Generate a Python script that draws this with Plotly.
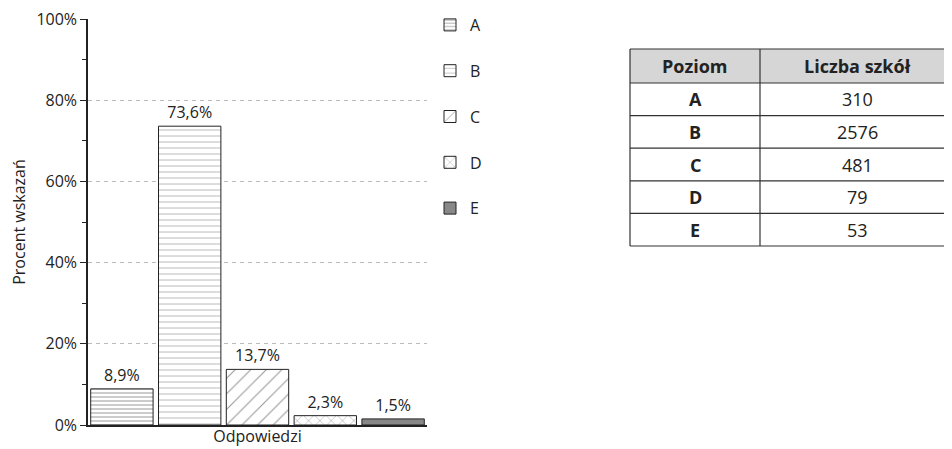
import plotly.graph_objects as go

categories = ["A", "B", "C", "D", "E"]
percent = [8.9, 73.6, 13.7, 2.3, 1.5]
labels = ["8,9%", "73,6%", "13,7%", "2,3%", "1,5%"]
table_header = ["Poziom", "Liczba szkół"]
table_levels = ["A", "B", "C", "D", "E"]
table_counts = ["310", "2576", "481", "79", "53"]

patterns = [
    dict(shape="-", size=4, solidity=0.25, fgcolor="#333", bgcolor="white"),
    dict(shape="-", size=6, solidity=0.15, fgcolor="#666", bgcolor="white"),
    dict(shape="/", size=11, solidity=0.1, fgcolor="#333", bgcolor="white"),
    dict(shape="x", size=8, solidity=0.12, fgcolor="#333", bgcolor="white"),
    dict(shape="", fgcolor="#888", bgcolor="#888"),
]
fills = ["white", "white", "white", "white", "#888888"]

# page body has an 8px margin; figure laid out in its own pixel coords
W, H = 944, 441
FONT = "Open Sans"


def px(x):
    return x / W


def py(y):
    return 1 - y / H


fig = go.Figure()
for i, c in enumerate(categories):
    fig.add_trace(go.Bar(
        x=[c], y=[percent[i]], name=c, text=[labels[i]],
        textposition="outside", cliponaxis=False,
        textfont=dict(size=16, color="#222"),
        marker=dict(color=fills[i], line=dict(color="#222", width=1),
                    pattern=patterns[i]),
        width=0.92, legendgroup=c,
    ))

# ---- table drawn with shapes + annotations ----
tx0, tsplit, tx1 = 622, 752, W + 5
row_tops = [41, 75]
n_rows = len(table_levels)
row_h = (238 - 75) / n_rows
for r in range(1, n_rows + 1):
    row_tops.append(75 + r * row_h)

shapes = []
shapes.append(dict(type="rect", xref="paper", yref="paper",
                   x0=px(tx0), x1=px(tx1), y0=py(row_tops[0]), y1=py(row_tops[1]),
                   fillcolor="#d6d6d6", line=dict(width=0), layer="below"))
for yy in row_tops:
    shapes.append(dict(type="line", xref="paper", yref="paper",
                       x0=px(tx0), x1=px(tx1), y0=py(yy), y1=py(yy),
                       line=dict(color="#333", width=1.2)))
for xx in (tx0, tsplit):
    shapes.append(dict(type="line", xref="paper", yref="paper",
                       x0=px(xx), x1=px(xx), y0=py(row_tops[0]), y1=py(row_tops[-1]),
                       line=dict(color="#333", width=1.2)))

annotations = []
col_centers = [(tx0 + tsplit) / 2, (tsplit + 946) / 2]
TFS = 18


def cell(x, y, text):
    return dict(xref="paper", yref="paper", x=px(x), y=py(y), text=text,
                showarrow=False, xanchor="center", yanchor="middle",
                font=dict(size=TFS, color="#222", family=FONT))


for j, h in enumerate(table_header):
    annotations.append(cell(col_centers[j], (row_tops[0] + row_tops[1]) / 2,
                            "<b>%s</b>" % h))
for r in range(n_rows):
    yc = (row_tops[r + 1] + row_tops[r + 2]) / 2
    annotations.append(cell(col_centers[0], yc, "<b>%s</b>" % table_levels[r]))
    annotations.append(cell(col_centers[1], yc, table_counts[r]))

fig.update_layout(
    width=W, height=H,
    margin=dict(l=0, r=0, t=0, b=0),
    paper_bgcolor="white", plot_bgcolor="white",
    font=dict(family=FONT, size=16, color="#222"),
    barmode="overlay",
    showlegend=True,
    shapes=shapes, annotations=annotations,
    legend=dict(x=px(422), y=1, xanchor="left", yanchor="top",
                tracegroupgap=22, font=dict(size=16),
                itemwidth=30, bgcolor="rgba(0,0,0,0)"),
    xaxis=dict(domain=[px(80), px(419)], range=[-0.5, 4.5],
               showticklabels=False, showline=True, linecolor="#222",
               linewidth=1.5, ticks="", showgrid=False, automargin=False,
               title=dict(text="Odpowiedzi", font=dict(size=16), standoff=5)),
    yaxis=dict(domain=[py(417), py(11)], range=[0, 100],
               dtick=20, ticksuffix="%", ticks="outside", ticklen=6,
               tickcolor="#222", showline=True, linecolor="#222", linewidth=1.5,
               showgrid=True, gridcolor="#bbbbbb", griddash="4px,4px",
               zeroline=False, automargin=False, ticklabeloverflow="allow",
               minor=dict(dtick=10, ticks="outside", ticklen=4, tickcolor="#222",
                          showgrid=False),
               tickfont=dict(size=16),
               title=dict(text="Procent wskazań", font=dict(size=16), standoff=17)),
)

fig.write_html("out.html")
